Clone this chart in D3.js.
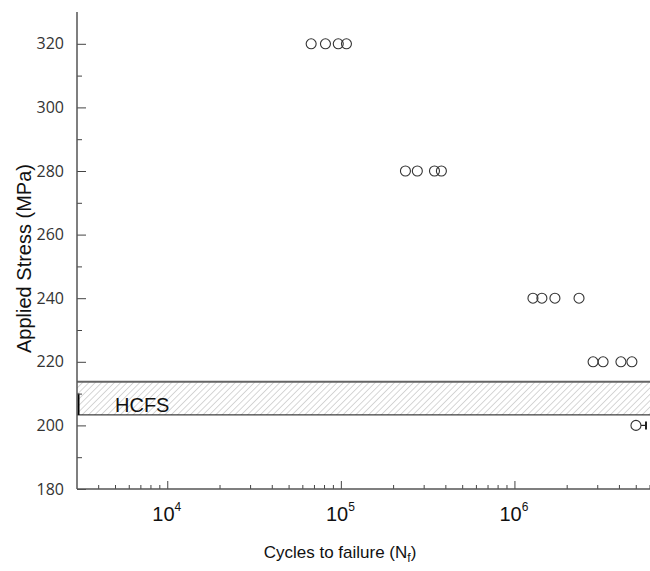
<!DOCTYPE html>
<html>
<head>
<meta charset="utf-8">
<script src="https://cdn.jsdelivr.net/npm/d3@7"></script>
<style>
body{margin:0;background:#fff;}
text{font-family:"Liberation Sans",Arial,sans-serif;}
</style>
</head>
<body>
<div id="chart"></div>
<script>
// stress levels (MPa) and cycles to failure
var stress320 = [67000, 81000, 96000, 107000];
var stress280 = [234000, 274000, 344000, 377000];
var stress240 = [1270000, 1430000, 1700000, 2340000];
var stress220 = [2820000, 3220000, 4080000, 4720000];
var runout200 = [4980000];
var hcfsBand = [203.3, 213.7];
var yTicks = [180, 200, 220, 240, 260, 280, 300, 320];
var xTicks = [1e4, 1e5, 1e6];

var margin = {top: 12, left: 77, right: 0, bottom: 82},
    W = 650, H = 571,
    width = W - margin.left - margin.right,
    height = H - margin.top - margin.bottom;

var svg = d3.select("#chart").append("svg")
    .attr("width", W).attr("height", H);

var defs = svg.append("defs");
var pat = defs.append("pattern")
    .attr("id", "hatch")
    .attr("patternUnits", "userSpaceOnUse")
    .attr("width", 4.5).attr("height", 4.5)
    .attr("patternTransform", "rotate(45)");
pat.append("line")
    .attr("x1", 0).attr("y1", 0).attr("x2", 0).attr("y2", 4.5)
    .attr("stroke", "#999").attr("stroke-width", 0.8);

var g = svg.append("g")
    .attr("transform", "translate(" + margin.left + "," + margin.top + ")");

var x = d3.scaleLog().domain([3000, 6e6]).range([0, width]);
var y = d3.scaleLinear().domain([180, 330]).range([height, 0]);

// HCFS band
g.append("rect")
    .attr("x", 0).attr("width", width)
    .attr("y", y(hcfsBand[1]))
    .attr("height", y(hcfsBand[0]) - y(hcfsBand[1]))
    .attr("fill", "url(#hatch)");
g.append("line")
    .attr("x1", 0).attr("x2", width)
    .attr("y1", y(hcfsBand[1])).attr("y2", y(hcfsBand[1]))
    .attr("stroke", "#666").attr("stroke-width", 2);
g.append("line")
    .attr("x1", 0).attr("x2", width)
    .attr("y1", y(hcfsBand[0])).attr("y2", y(hcfsBand[0]))
    .attr("stroke", "#111").attr("stroke-width", 1);
g.append("line")
    .attr("x1", 1.5).attr("x2", 1.5)
    .attr("y1", y(210)).attr("y2", y(hcfsBand[0]))
    .attr("stroke", "#000").attr("stroke-width", 2);
g.append("text")
    .attr("x", 38).attr("y", y(hcfsBand[0]) - 3)
    .attr("font-size", 20).attr("fill", "#111")
    .text("HCFS");

// axes
var yAxis = d3.axisLeft(y)
    .tickValues(d3.range(190, 330, 20))
    .tickSize(-5).tickFormat("");
var yMajor = d3.axisLeft(y)
    .tickValues(yTicks)
    .tickSizeInner(-9).tickSizeOuter(0).tickPadding(13);

g.append("g").call(yAxis).call(function(s){
  s.select(".domain").remove();
  s.selectAll("line").attr("stroke", "#444");
});
g.append("g").call(yMajor).call(function(s){
  s.select(".domain").remove();
  s.selectAll("line").attr("stroke", "#444");
  s.selectAll("text").attr("font-size", 16).attr("fill", "#333")
    .style("font-family", "'Open Sans', sans-serif");
});

var minor = [];
[1e3, 1e4, 1e5, 1e6].forEach(function(b){
  for (var k = 2; k <= 9; k++){
    var v = b * k;
    if (v > 3000 && v <= 6e6) minor.push(v);
  }
});
g.append("g").attr("transform", "translate(0," + height + ")")
  .selectAll("line").data(minor).enter().append("line")
  .attr("x1", function(d){return x(d);}).attr("x2", function(d){return x(d);})
  .attr("y1", 0).attr("y2", -4).attr("stroke", "#444");

var xg = g.append("g").attr("transform", "translate(0," + height + ")");
xg.selectAll("line").data(xTicks).enter().append("line")
  .attr("x1", function(d){return x(d);}).attr("x2", function(d){return x(d);})
  .attr("y1", 0).attr("y2", -8).attr("stroke", "#444");
var xl = xg.selectAll("text").data(xTicks).enter().append("text")
  .attr("x", function(d){return x(d) - 1;})
  .attr("y", 32)
  .attr("text-anchor", "middle")
  .attr("font-size", 20).attr("fill", "#111");
xl.append("tspan").text("10");
xl.append("tspan").attr("dy", -10).attr("font-size", 12)
  .text(function(d){return Math.round(Math.log10(d));});

// axis lines
g.append("line").attr("x1", 0).attr("x2", 0).attr("y1", 0).attr("y2", height)
  .attr("stroke", "#555").attr("stroke-width", 1.5);
g.append("line").attr("x1", 0).attr("x2", width).attr("y1", height).attr("y2", height)
  .attr("stroke", "#555").attr("stroke-width", 1.5);

// data points
var groups = [
  {s: 320, n: stress320},
  {s: 280, n: stress280},
  {s: 240, n: stress240},
  {s: 220, n: stress220},
  {s: 200, n: runout200}
];
var pts = [];
groups.forEach(function(gr){
  gr.n.forEach(function(v){ pts.push({s: gr.s, n: v}); });
});

// run-out arrow
runout200.forEach(function(v){
  g.append("line")
    .attr("x1", x(v) + 5).attr("x2", width - 4)
    .attr("y1", y(200)).attr("y2", y(200))
    .attr("stroke", "#222").attr("stroke-width", 1.2);
  g.append("line")
    .attr("x1", width - 4).attr("x2", width - 4)
    .attr("y1", y(200) - 4).attr("y2", y(200) + 4)
    .attr("stroke", "#222").attr("stroke-width", 2);
});

g.selectAll(".pt").data(pts).enter().append("circle")
  .attr("class", "pt")
  .attr("cx", function(d){return x(d.n);})
  .attr("cy", function(d){return y(d.s);})
  .attr("r", 5)
  .attr("fill", "none")
  .attr("stroke", "#333").attr("stroke-width", 1.1);

// axis titles
svg.append("text")
  .attr("transform", "translate(31," + (margin.top + height / 2 + 8) + ") rotate(-90)")
  .attr("text-anchor", "middle")
  .attr("font-size", 20).attr("fill", "#111")
  .text("Applied Stress (MPa)");

var xt = svg.append("text")
  .attr("x", 340).attr("y", 558)
  .attr("text-anchor", "middle")
  .attr("font-size", 17).attr("fill", "#111");
xt.append("tspan").text("Cycles to failure (N");
xt.append("tspan").attr("font-size", 12).attr("dy", 4).text("f");
xt.append("tspan").attr("dy", -4).text(")");
</script>
</body>
</html>
